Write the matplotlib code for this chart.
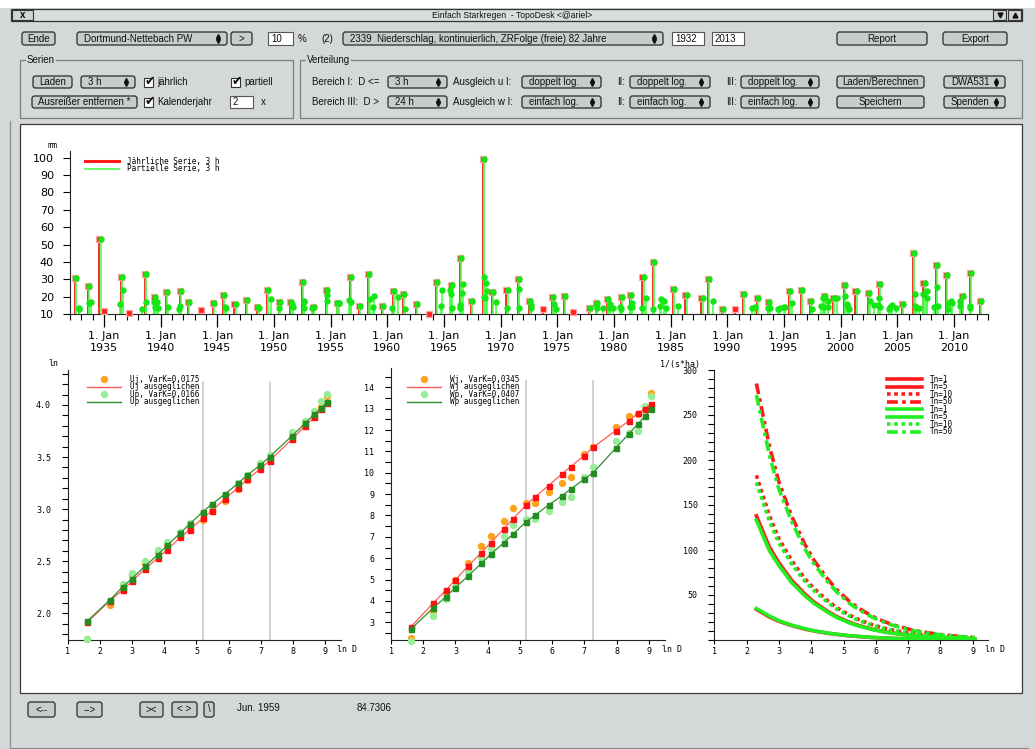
import numpy as np
import matplotlib.pyplot as plt
import matplotlib.transforms as mtransforms
from matplotlib.patches import Rectangle, FancyBboxPatch
from matplotlib.lines import Line2D
from matplotlib.ticker import MultipleLocator, FixedLocator, FormatStrFormatter

# ---- data ---------------------------------------------------------------
# annual series (year position, mm); red_only = annual values not in the partial series
annual_year = [1932.44, 1933.55, 1934.60, 1935.00, 1936.50, 1937.20, 1938.60, 1939.40, 1940.45, 1941.70,
               1942.40, 1943.60, 1944.60, 1945.50, 1946.50, 1947.50, 1948.50, 1949.40, 1950.40, 1951.40,
               1952.45, 1953.45, 1954.60, 1955.60, 1956.70, 1957.50, 1958.30, 1959.50, 1960.50, 1961.40,
               1962.50, 1963.70, 1964.30, 1965.60, 1966.40, 1967.40, 1968.40, 1969.20, 1970.50, 1971.50,
               1972.50, 1973.70, 1974.50, 1975.60, 1976.40, 1977.80, 1978.40, 1979.40, 1980.60, 1981.40,
               1982.50, 1983.40, 1985.20, 1986.30, 1987.70, 1988.30, 1989.50, 1990.70, 1991.40, 1992.60,
               1993.55, 1995.40, 1996.50, 1997.30, 1998.50, 1999.30, 2000.30, 2001.30, 2002.40, 2003.40,
               2005.40, 2006.40, 2007.30, 2008.40, 2009.30, 2010.70, 2011.40, 2012.30]
annual_mm = [30.7, 26.3, 53.3, 12.1, 31.6, 11.0, 33.0, 20.1, 22.8, 23.4,
             16.9, 12.7, 16.7, 21.1, 15.7, 18.4, 14.4, 23.8, 16.9, 16.9,
             28.8, 14.4, 24.2, 16.5, 31.6, 14.6, 33.4, 14.6, 23.2, 21.5,
             15.7, 10.4, 28.4, 26.7, 42.2, 17.9, 99.2, 22.8, 24.2, 30.2,
             17.7, 13.1, 19.8, 20.7, 11.5, 13.6, 16.7, 18.8, 20.1, 21.1,
             31.6, 39.9, 24.7, 21.1, 19.6, 30.3, 13.1, 13.1, 21.5, 19.2,
             17.3, 23.6, 24.2, 17.9, 20.3, 19.2, 27.0, 23.2, 22.4, 27.4,
             16.1, 45.0, 28.2, 38.5, 32.6, 20.7, 33.9, 17.9]
red_only = [1935.00, 1937.20, 1943.60, 1963.70, 1973.70, 1976.40, 1990.70]

# further values of the partial series
extra_year = [1932.64, 1932.64, 1933.58, 1933.73, 1936.31, 1936.58, 1938.28, 1938.58, 1939.28, 1939.37,
              1939.54, 1939.63, 1940.51, 1941.48, 1941.60, 1945.56, 1945.64, 1948.55, 1949.58, 1950.34,
              1951.43, 1951.54, 1952.55, 1952.55, 1952.55, 1953.24, 1954.60, 1954.60, 1955.41, 1955.62,
              1956.50, 1956.66, 1958.39, 1958.58, 1958.67, 1960.31, 1960.85, 1961.44, 1964.66, 1964.71,
              1965.45, 1965.50, 1965.63, 1966.26, 1966.32, 1966.48, 1966.57, 1968.42, 1968.45, 1968.47,
              1968.55, 1968.64, 1969.47, 1970.44, 1971.54, 1971.54, 1972.56, 1972.59, 1974.61, 1974.76,
              1978.33, 1978.37, 1978.94, 1979.54, 1979.54, 1979.77, 1980.42, 1980.52, 1981.30, 1981.47,
              1981.47, 1982.38, 1982.70, 1983.35, 1983.94, 1984.00, 1984.26, 1984.44, 1985.55, 1988.63,
              1992.04, 1992.33, 1993.44, 1993.62, 1994.35, 1994.56, 1994.85, 1994.97, 1995.62, 1997.35,
              1998.17, 1998.31, 1998.45, 1998.73, 1998.73, 1999.58, 2000.28, 2000.46, 2000.55, 2000.63,
              2002.48, 2002.83, 2003.19, 2003.24, 2003.36, 2004.12, 2004.27, 2004.42, 2004.77, 2006.41,
              2006.41, 2006.53, 2006.80, 2007.18, 2007.47, 2007.47, 2008.12, 2008.38, 2008.46, 2009.40,
              2009.40, 2009.61, 2009.75, 2010.45, 2010.45, 2011.31, 2011.33]
extra_mm = [13.9, 12.9, 16.7, 17.3, 16.1, 24.2, 13.1, 16.9, 16.9, 14.4,
            16.9, 13.4, 14.2, 13.1, 14.8, 14.0, 13.8, 13.8, 19.0, 13.6,
            15.9, 14.0, 17.9, 16.9, 13.4, 13.4, 21.1, 17.9, 16.3, 16.3,
            18.2, 17.3, 18.6, 14.4, 20.5, 13.8, 20.1, 13.1, 15.0, 24.2,
            23.8, 21.5, 13.4, 15.4, 13.4, 22.1, 27.4, 31.3, 20.1, 19.2,
            27.8, 23.4, 17.3, 13.8, 24.4, 13.8, 15.4, 13.4, 15.7, 13.1,
            15.6, 13.8, 13.4, 15.7, 13.8, 13.4, 14.4, 12.9, 14.4, 16.3,
            14.4, 13.6, 19.2, 13.1, 15.0, 18.8, 17.7, 13.6, 14.6, 17.7,
            13.8, 14.2, 13.6, 13.8, 13.1, 13.4, 14.2, 14.4, 16.3, 13.1,
            15.0, 19.6, 14.4, 17.7, 14.4, 19.2, 20.7, 15.7, 14.4, 13.1,
            17.9, 15.6, 15.6, 19.6, 14.0, 13.1, 14.4, 15.2, 13.6, 21.5,
            15.0, 13.6, 13.6, 21.5, 23.2, 19.6, 14.4, 25.5, 15.0, 16.3,
            13.1, 17.9, 16.7, 17.5, 14.8, 15.0, 13.6]

year_ticks = [1935, 1940, 1945, 1950, 1955, 1960, 1965, 1970, 1975, 1980, 1985, 1990, 1995, 2000, 2005, 2010]

# durations D in minutes
dur_min = [5, 10, 15, 20, 30, 45, 60, 90, 120, 180, 240, 360, 540, 720, 1080, 1440, 2880, 4320, 5760, 7200, 8640]
range_limits = [180, 1440]

uj_obs = [1.75, 2.077, 2.24, 2.365, 2.478, 2.59, 2.66, 2.734, 2.814, 2.90, 2.984, 3.077, 3.19, 3.28, 3.40, 3.478, 3.69, 3.808, 3.894, 3.984, 4.087]
uj_fit = [1.913, 2.119, 2.221, 2.308, 2.423, 2.535, 2.612, 2.728, 2.804, 2.91, 2.984, 3.10, 3.205, 3.285, 3.388, 3.465, 3.67, 3.798, 3.88, 3.958, 4.016]
up_obs = [1.756, 2.119, 2.279, 2.39, 2.50, 2.612, 2.686, 2.782, 2.862, 2.965, 3.029, 3.135, 3.247, 3.327, 3.439, 3.519, 3.737, 3.846, 3.942, 4.038, 4.106]
up_fit = [1.926, 2.125, 2.253, 2.333, 2.452, 2.564, 2.651, 2.772, 2.856, 2.974, 3.048, 3.144, 3.247, 3.327, 3.423, 3.503, 3.702, 3.824, 3.91, 3.974, 4.032]

wj_obs = [2.25, 3.55, 4.36, 4.98, 5.79, 6.57, 7.04, 7.74, 8.34, 8.6, 8.6, 9.12, 9.5, 9.82, 10.88, 11.19, 12.16, 12.66, 12.73, 13.0, 13.72]
wj_fit = [2.77, 3.89, 4.51, 4.98, 5.65, 6.26, 6.73, 7.37, 7.84, 8.49, 8.88, 9.4, 9.93, 10.29, 10.8, 11.19, 11.97, 12.42, 12.78, 13.0, 13.22]
wp_obs = [2.14, 3.31, 4.08, 4.67, 5.42, 6.07, 6.46, 7.06, 7.56, 7.82, 7.82, 8.23, 8.62, 8.88, 9.82, 10.25, 11.49, 11.85, 11.97, 13.14, 13.6]
wp_fit = [2.67, 3.66, 4.2, 4.62, 5.18, 5.76, 6.18, 6.73, 7.13, 7.71, 8.02, 8.49, 8.91, 9.24, 9.69, 10.0, 11.14, 11.81, 12.28, 12.66, 12.97]

# rain yield l/(s*ha) from D = 10 min on, for Tn = 1, 5, 10, 50
tn_labels = ['Tn=1', 'Tn=5', 'Tn=10', 'Tn=50']
r_annual = [
    [34, 25.5, 20.8, 16, 12, 10, 7.5, 6.2, 4.6, 3.8, 2.8, 2.1, 1.7, 1.3, 1.05, 0.65, 0.5, 0.4, 0.33, 0.28],
    [138, 103, 86, 66, 51, 42, 32, 26, 19.5, 16, 12, 9, 7.5, 5.5, 4.5, 2.8, 2.1, 1.7, 1.4, 1.2],
    [183, 138, 113, 88, 68, 57, 44, 36, 27.5, 22.5, 17, 12.8, 10.6, 8, 6.5, 4, 3, 2.4, 2, 1.7],
    [285, 215, 176, 137, 106, 88, 68, 56, 42.5, 35, 26.5, 20, 16.5, 12.3, 10, 6.2, 4.7, 3.8, 3.2, 2.7],
]
r_partial = [
    [35, 26.5, 21.5, 16.5, 12.5, 10.3, 7.8, 6.4, 4.8, 3.9, 2.9, 2.2, 1.8, 1.3, 1.1, 0.7, 0.5, 0.4, 0.35, 0.3],
    [133, 99, 83, 63.5, 49, 40.5, 31, 25, 18.8, 15.4, 11.6, 8.7, 7.2, 5.3, 4.3, 2.7, 2.0, 1.6, 1.35, 1.15],
    [175, 132, 108, 84, 65, 54.5, 42, 34.4, 26.3, 21.5, 16.3, 12.2, 10.1, 7.6, 6.2, 3.8, 2.9, 2.3, 1.9, 1.6],
    [272, 205, 168, 131, 101, 84, 65, 53.4, 40.5, 33.4, 25.3, 19.1, 15.7, 11.7, 9.5, 5.9, 4.5, 3.6, 3.1, 2.6],
]
tn_styles = ['-', '-', (0, (1, 1)), (0, (3, 1.2, 1, 1.2))]

# ---- figure / gui -------------------------------------------------------
W, H = 1035, 749
GUI = '#d4d8d8'
BTN = '#c8cccc'
UI_FONT = 'Liberation Sans'
MONO = 'DejaVu Sans Mono'
plt.rcParams['font.family'] = UI_FONT

fig = plt.figure(figsize=(W / 100, H / 100), dpi=100, facecolor=GUI)
bg = fig.add_axes([0, 0, 1, 1], zorder=0)
bg.set_xlim(0, W)
bg.set_ylim(H, 0)
bg.axis('off')


def px_axes(x0, y0, x1, y1):
    a = fig.add_axes([x0 / W, 1 - y1 / H, (x1 - x0) / W, (y1 - y0) / H], zorder=2)
    a.patch.set_alpha(0)
    for s in ['top', 'right']:
        a.spines[s].set_visible(False)
    for s in ['left', 'bottom']:
        a.spines[s].set_linewidth(0.8)
        a.spines[s].set_color('#222222')
    return a


def txt(x, y, s, ha='left', fs=7.0, **kw):
    bg.text(x, y, s, ha=ha, va='center', fontsize=fs, color='#111111', **kw)


def button(x0, x1, y0, y1, label, combo=False):
    bg.add_patch(FancyBboxPatch((x0, y0), x1 - x0, y1 - y0,
                                boxstyle='round,pad=0,rounding_size=2.5',
                                fc=BTN, ec='#2a2a2a', lw=0.9))
    yc = (y0 + y1) / 2
    if combo:
        txt(x0 + 7, yc, label)
        bg.plot([x1 - 9], [yc - 2.3], marker='^', ms=2.8, color='#111111')
        bg.plot([x1 - 9], [yc + 2.3], marker='v', ms=2.8, color='#111111')
    else:
        txt((x0 + x1) / 2, yc, label, ha='center')


def field(x0, x1, y0, y1, label):
    bg.add_patch(Rectangle((x0, y0), x1 - x0, y1 - y0, fc='white', ec='#555555', lw=0.8))
    txt(x0 + 3, (y0 + y1) / 2, label)


def check(x, y, label):
    bg.add_patch(Rectangle((x, y - 4.5), 9, 9, fc='white', ec='#333333', lw=0.8))
    bg.text(x + 5.5, y - 0.5, '\u2714', ha='center', va='center', fontsize=9,
            family='DejaVu Sans', color='#111111')
    txt(x + 13, y, label)


def group(x0, y0, x1, y1, label):
    bg.add_patch(Rectangle((x0, y0), x1 - x0, y1 - y0, fc='none', ec='#7a7f7f', lw=0.9))
    bg.text(x0 + 7, y0, label, ha='left', va='center', fontsize=7.0, color='#111111',
            bbox=dict(fc=GUI, ec='none', pad=0.6))


# title bar
bg.add_patch(Rectangle((0, 0), W, 8, fc='white', ec='none'))
bg.add_patch(Rectangle((11, 9), 1011, 12, fc='#d9dddd', ec='#333333', lw=0.9))
bg.add_patch(Rectangle((12, 10), 21, 10, fc='#cfd3d3', ec='#333333', lw=0.8))
bg.text(22.5, 15, 'x', ha='center', va='center', fontsize=7, fontweight='bold')
bg.add_patch(Rectangle((993, 10), 13, 10, fc='#cfd3d3', ec='#333333', lw=0.8))
bg.add_patch(Rectangle((1008, 10), 13, 10, fc='#cfd3d3', ec='#333333', lw=0.8))
bg.plot([999.5], [14.5], marker='v', ms=3.5, color='#111111')
bg.plot([1014.5], [14.5], marker='^', ms=3.5, color='#111111')
txt(512, 15, 'Einfach Starkregen  - TopoDesk <@ariel>', ha='center', fs=6.2)

# first row
button(22, 55, 32, 45, 'Ende')
button(77, 227, 32, 45, 'Dortmund-Nettebach PW', combo=True)
button(231, 252, 32, 45, '>')
field(268, 293, 32, 45, '10')
txt(298, 38.5, '%')
txt(327, 38.5, '(2)', ha='center')
button(343, 663, 32, 45, '2339  Niederschlag, kontinuierlich, ZRFolge (freie) 82 Jahre', combo=True)
field(672, 704, 32, 45, '1932')
field(712, 744, 32, 45, '2013')
button(837, 927, 32, 45, 'Report')
button(943, 1007, 32, 45, 'Export')

# groups
group(20, 60, 293, 118, 'Serien')
group(300, 60, 1022, 118, 'Verteilung')
r2a, r2b = 76, 88
r3a, r3b = 96, 108
button(33, 72, r2a, r2b, 'Laden')
button(81, 135, r2a, r2b, '3 h', combo=True)
check(144, 82, 'jährlich')
check(231, 82, 'partiell')
button(32, 137, r3a, r3b, 'Ausreißer entfernen *')
check(144, 102, 'Kalenderjahr')
field(230, 253, r3a, r3b, '2')
txt(261, 102, 'x')

txt(312, 82, 'Bereich I:  D <=')
txt(312, 102, 'Bereich III:  D >')
button(388, 447, r2a, r2b, '3 h', combo=True)
button(388, 447, r3a, r3b, '24 h', combo=True)
txt(453, 82, 'Ausgleich u I:')
txt(453, 102, 'Ausgleich w I:')
for (ya, yb), lab in [((r2a, r2b), 'doppelt log.'), ((r3a, r3b), 'einfach log.')]:
    button(522, 601, ya, yb, lab, combo=True)
    txt(617, (ya + yb) / 2, 'II:')
    button(630, 710, ya, yb, lab, combo=True)
    txt(726, (ya + yb) / 2, 'III:')
    button(741, 819, ya, yb, lab, combo=True)
button(837, 924, r2a, r2b, 'Laden/Berechnen')
button(837, 924, r3a, r3b, 'Speichern')
button(944, 1005, r2a, r2b, 'DWA531', combo=True)
button(944, 1005, r3a, r3b, 'Spenden', combo=True)

# canvas and frame
bg.plot([10, 10, 1028], [121, 748, 748], color='#8a8f8f', lw=0.9)
bg.add_patch(Rectangle((20, 124), 1002, 569, fc='white', ec='#3a3a3a', lw=0.9))

# bottom row
button(28, 55, 702, 717, '<--')
button(77, 102, 702, 717, '-->')
button(140, 163, 702, 717, '><')
button(172, 197, 702, 717, '< >')
button(204, 214, 702, 717, '\\')
txt(237, 708, 'Jun. 1959')
txt(357, 708, '84.7306')


# ---- top chart -----------------------------------------------------------
def legend(ax, handles, labels, x, y, line_px, text_px):
    fs = 5.5
    fpx = fs * 100 / 72
    ax.legend(handles, labels, loc='upper left', bbox_to_anchor=(x / W, 1 - y / H),
              bbox_transform=fig.transFigure, frameon=False,
              prop={'family': MONO, 'size': fs}, handlelength=line_px / fpx,
              handletextpad=text_px / fpx, labelspacing=-0.2, borderpad=0,
              borderaxespad=0, handleheight=0.6)


ax1 = px_axes(70, 150.7, 988, 314.3)
ax1.set_xlim(1932, 2013)
ax1.set_ylim(10, 104)

part_year = [y for y in annual_year if y not in red_only] + extra_year
part_mm = [m for y, m in zip(annual_year, annual_mm) if y not in red_only] + extra_mm
shift = mtransforms.offset_copy(ax1.transData, fig=fig, x=1.3, y=0, units='dots')

ax1.vlines(annual_year, 10, annual_mm, color='#ff1a1a', lw=1.3, zorder=2)
ax1.vlines(part_year, 10, part_mm, color='#4dff4d', lw=1.2, zorder=3, transform=shift)
ax1.plot(annual_year, annual_mm, ls='none', marker='s', ms=4.2, mfc='#ff2020', mec='#ffa8a8',
         mew=0.9, zorder=4, clip_on=False)
ax1.plot(part_year, part_mm, ls='none', marker='o', ms=3.6, mfc='#14e614', mec='#14e614',
         zorder=5, clip_on=False, transform=shift)

ax1.xaxis.set_major_locator(FixedLocator(year_ticks))
ax1.xaxis.set_minor_locator(MultipleLocator(1))
ax1.set_xticklabels(['1. Jan\n%d' % y for y in year_ticks])
ax1.yaxis.set_major_locator(MultipleLocator(10))
ax1.tick_params(axis='x', which='major', length=9, width=0.9, labelsize=8, pad=3,
                labelfontfamily='DejaVu Sans')
ax1.tick_params(axis='x', which='minor', length=4, width=0.8)
ax1.tick_params(axis='y', length=5, width=0.8, labelsize=8, pad=6.5, labelfontfamily='DejaVu Sans')
bg.text(52, 146, 'mm', ha='center', va='center', fontsize=6, family=MONO)

legend(ax1, [Line2D([], [], color='#ff1a1a', lw=2.2), Line2D([], [], color='#66ff66', lw=1.4)],
       ['Jährliche Serie, 3 h', 'Partielle Serie, 3 h'], 85, 157, 34, 8)

# ---- bottom charts --------------------------------------------------------
ln_d = np.log(dur_min)


def style_small(ax):
    ax.xaxis.set_major_locator(MultipleLocator(1))
    ax.tick_params(axis='x', length=3, width=0.8, labelsize=6, pad=2, labelfontfamily=MONO)
    ax.tick_params(axis='y', which='both', length=4, width=0.8, labelsize=6, pad=8,
                   labelfontfamily=MONO)


def fit_chart(ax, obs_j, fit_j, obs_p, fit_p):
    for lim in range_limits:
        ax.axvline(np.log(lim), ymax=0.955, color='#c8c8c8', lw=1.2, zorder=1)
    ax.plot(ln_d, obs_j, ls='none', marker='o', ms=4.3, color='#ffa31f', zorder=3, clip_on=False)
    ax.plot(ln_d, obs_p, ls='none', marker='o', ms=4.3, color='#98ee98', zorder=3, clip_on=False)
    ax.plot(ln_d, fit_j, color='#ff5a5a', lw=0.9, marker='s', ms=3.6, mfc='#ff1010', mec='#ff1010',
            zorder=4)
    ax.plot(ln_d, fit_p, color='#2f8f2f', lw=0.9, marker='s', ms=3.6, mfc='#238c23', mec='#238c23',
            zorder=4)


ax2 = px_axes(67.7, 370, 340.7, 640)
ax2.set_xlim(1, 9.48)
ax2.set_ylim(1.743, 4.336)
fit_chart(ax2, uj_obs, uj_fit, up_obs, up_fit)
ax2.yaxis.set_major_locator(MultipleLocator(0.5))
ax2.yaxis.set_minor_locator(MultipleLocator(0.1))
ax2.yaxis.set_major_formatter(FormatStrFormatter('%.1f'))
style_small(ax2)
legend(ax2, [Line2D([], [], ls='none', marker='o', ms=4.3, color='#ffa31f'),
             Line2D([], [], color='#ff5a5a', lw=1.0),
             Line2D([], [], ls='none', marker='o', ms=4.3, color='#98ee98'),
             Line2D([], [], color='#2f8f2f', lw=1.0)],
       ['Uj, VarK=0,0175', 'Uj ausgeglichen', 'Up, VarK=0,0166', 'Up ausgeglichen'], 87, 375, 34, 9)
bg.text(53, 364, 'ln', ha='center', va='center', fontsize=6, family=MONO)
bg.text(337, 650, 'ln D', ha='left', va='center', fontsize=6, family=MONO)

ax3 = px_axes(391, 368.3, 665, 640)
ax3.set_xlim(1, 9.5)
ax3.set_ylim(2.17, 14.89)
fit_chart(ax3, wj_obs, wj_fit, wp_obs, wp_fit)
ax3.yaxis.set_major_locator(MultipleLocator(1))
ax3.yaxis.set_minor_locator(MultipleLocator(0.5))
style_small(ax3)
legend(ax3, [Line2D([], [], ls='none', marker='o', ms=4.3, color='#ffa31f'),
             Line2D([], [], color='#ff5a5a', lw=1.0),
             Line2D([], [], ls='none', marker='o', ms=4.3, color='#98ee98'),
             Line2D([], [], color='#2f8f2f', lw=1.0)],
       ['Wj, VarK=0,0345', 'Wj ausgeglichen', 'Wp, VarK=0,0407', 'Wp ausgeglichen'], 407, 375, 34, 9)
bg.text(662, 649, 'ln D', ha='left', va='center', fontsize=6, family=MONO)

ax4 = px_axes(714.3, 370, 988, 640)
ax4.set_xlim(1, 9.47)
ax4.set_ylim(0, 300)
handles = []
for series, col in [(r_annual, '#ff1a1a'), (r_partial, '#22ee22')]:
    for vals, ls in zip(series, tn_styles):
        ax4.plot(ln_d[1:], vals, color=col, lw=2.6, ls=ls, zorder=3)
        handles.append(Line2D([], [], color=col, lw=2.6, ls=ls))
ax4.yaxis.set_major_locator(FixedLocator([50, 100, 150, 200, 250, 300]))
ax4.yaxis.set_minor_locator(MultipleLocator(10))
style_small(ax4)
legend(ax4, handles, tn_labels * 2, 887, 375, 35, 8)
bg.text(700, 364, '1/(s*ha)', ha='right', va='center', fontsize=6, family=MONO)
bg.text(985, 649, 'ln D', ha='left', va='center', fontsize=6, family=MONO)

fig.savefig('out.png', dpi=100, facecolor=GUI)
